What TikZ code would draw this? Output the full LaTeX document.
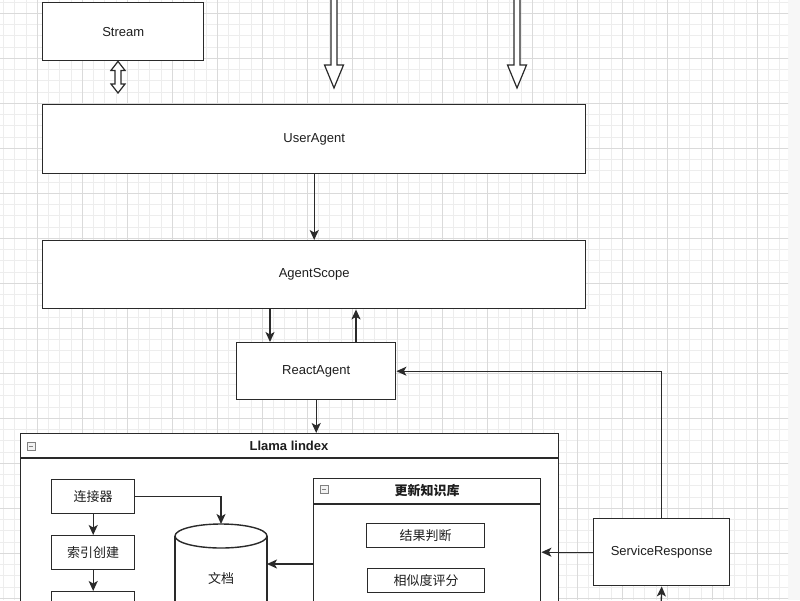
\documentclass[tikz,border=0pt]{standalone}
\usepackage{fontspec}
\setmainfont{Liberation Sans}
\newfontfamily\cjk{Noto Sans CJK SC}
\usetikzlibrary{arrows.meta,calc}
\definecolor{linec}{HTML}{2A2A2A}
\definecolor{txtc}{HTML}{1E1E1E}
\definecolor{gmin}{HTML}{EDEDED}
\definecolor{gmaj}{HTML}{DADADA}
\begin{document}
\begin{tikzpicture}[x=1pt,y=-1pt,
  box/.style={draw=linec, line width=1.4pt, fill=white, inner sep=0pt, anchor=north west,
    font=\fontsize{13}{15}\selectfont, text=txtc},
  cbox/.style={box, font=\fontsize{13}{15}\selectfont\cjk},
  arr/.style={draw=linec, line width=1.3pt, -{Stealth[length=10pt,width=9pt,inset=2.5pt]}},
  hollow/.style={draw=linec, line width=1.2pt, fill=white, line join=miter},
  ttl/.style={font=\fontsize{13}{15}\selectfont\bfseries, text=txtc},
  cttl/.style={font=\fontsize{13}{15}\selectfont\cjk\bfseries, text=txtc},
  minus/.style={draw=gray, line width=0.7pt, fill=gray!10}
]
\useasboundingbox (0,0) rectangle (800,600);
\fill[white] (0,0) rectangle (800,600);
\fill[gray!6] (788,0) rectangle (800,600);
% grid
\begin{scope}
\clip (0,0) rectangle (788,600);
\foreach \i in {0,...,71} \draw[gmin, line width=0.5pt] ({\i*11.25-8},0) -- ({\i*11.25-8},600);
\foreach \i in {0,...,56} \draw[gmin, line width=0.5pt] (0,{\i*11.25-32}) -- (800,{\i*11.25-32});
\foreach \i in {0,...,18} \draw[gmaj, line width=0.7pt] ({\i*45-8},0) -- ({\i*45-8},600);
\foreach \i in {0,...,14} \draw[gmaj, line width=0.7pt] (0,{\i*45-32}) -- (800,{\i*45-32});
\end{scope}

% main boxes
\node[box, minimum width=161pt, minimum height=58pt] (stream) at (42,2) {Stream};
\node[box, minimum width=543pt, minimum height=69pt] (ua) at (42,104) {UserAgent};
\node[box, minimum width=543pt, minimum height=68pt] (as) at (42,240) {AgentScope};
\node[box, minimum width=159pt, minimum height=57pt] (ra) at (236,342) {ReactAgent};

% Llama lindex container
\node[box, minimum width=538pt, minimum height=200pt] (llama) at (20,433) {};
\draw[linec, line width=1.4pt] (20,458) -- (558,458);
\node[ttl] (llamat) at (289,446) {Llama lindex};
\draw[minus] (27,442) rectangle (35,450);
\draw[gray, line width=0.7pt] (29,446) -- (33,446);

\node[cbox, minimum width=83pt, minimum height=34pt] (conn) at (51,479) {连接器};
\node[cbox, minimum width=83pt, minimum height=34pt] (idx) at (51,535) {索引创建};
\node[cbox, minimum width=83pt, minimum height=34pt] (third) at (51,591) {};

% cylinder
\fill[white] (175,536) rectangle (267,640);
\draw[linec, line width=1.4pt] (175,536) -- (175,640);
\draw[linec, line width=1.4pt] (267,536) -- (267,640);
\draw[linec, line width=1.4pt, fill=white] (221,536) ellipse [x radius=46, y radius=12];
\node[font=\fontsize{13}{15}\selectfont\cjk, text=txtc] (doc) at (221,578) {文档};
\coordinate (doctop) at (221,524);
\coordinate (docright) at (267,564);

% update container
\node[box, minimum width=227pt, minimum height=150pt] (upd) at (313,478) {};
\draw[linec, line width=1.4pt] (313,504) -- (540,504);
\node[cttl] (updt) at (427,491) {更新知识库};
\draw[minus] (320,485) rectangle (328,493);
\draw[gray, line width=0.7pt] (322,489) -- (326,489);
\node[cbox, minimum width=118pt, minimum height=24pt] (res) at (366,523) {结果判断};
\node[cbox, minimum width=117pt, minimum height=24pt] (sim) at (367,568) {相似度评分};

% service response
\node[box, minimum width=136pt, minimum height=67pt] (svc) at (593,518) {ServiceResponse};

% hollow arrows
\coordinate (t1) at (334,-5);
\coordinate (t1e) at (334,88);
\coordinate (t2) at (517,-5);
\coordinate (t2e) at (517,88);
\draw[hollow] ($(t1)+(-3,0)$) -- ($(t1e)+(-3,-23)$) -- ($(t1e)+(-9.5,-23)$) -- (t1e) -- ($(t1e)+(9.5,-23)$) -- ($(t1e)+(3,-23)$) -- ($(t1)+(3,0)$);
\draw[hollow] ($(t2)+(-3,0)$) -- ($(t2e)+(-3,-23)$) -- ($(t2e)+(-9.5,-23)$) -- (t2e) -- ($(t2e)+(9.5,-23)$) -- ($(t2e)+(3,-23)$) -- ($(t2)+(3,0)$);

% stream double hollow arrow
\coordinate (s1) at (stream.south -| 118,0);
\coordinate (s2) at (118,93);
\draw[hollow] (s1) -- ($(s1)+(7,9)$) -- ($(s1)+(3,9)$) -- ($(s2)+(3,-9)$) -- ($(s2)+(7,-9)$) -- (s2)
  -- ($(s2)+(-7,-9)$) -- ($(s2)+(-3,-9)$) -- ($(s1)+(-3,9)$) -- ($(s1)+(-7,9)$) -- cycle;

% connectors
\coordinate (xa) at (270,0);
\coordinate (xb) at (356,0);
\draw[arr] (ua.south) -- (as.north);
\draw[arr] (as.south -| xa) -- (ra.north -| xa);
\draw[arr] (ra.north -| xb) -- (as.south -| xb);
\draw[arr] (ra.south) -- (llama.north -| ra.south);
\draw[arr] (conn.south) -- (idx.north);
\draw[arr] (idx.south) -- (third.north);
\draw[arr] (conn.east) -| (doctop);
\draw[arr] (docright -| upd.west) -- (docright);
\draw[arr] (svc.west) -- (svc.west -| upd.east);
\draw[arr] (svc.north) |- (ra.east);
\coordinate (svcin) at (661,610);
\draw[arr] (svcin) -- (svc.south);
\end{tikzpicture}
\end{document}
